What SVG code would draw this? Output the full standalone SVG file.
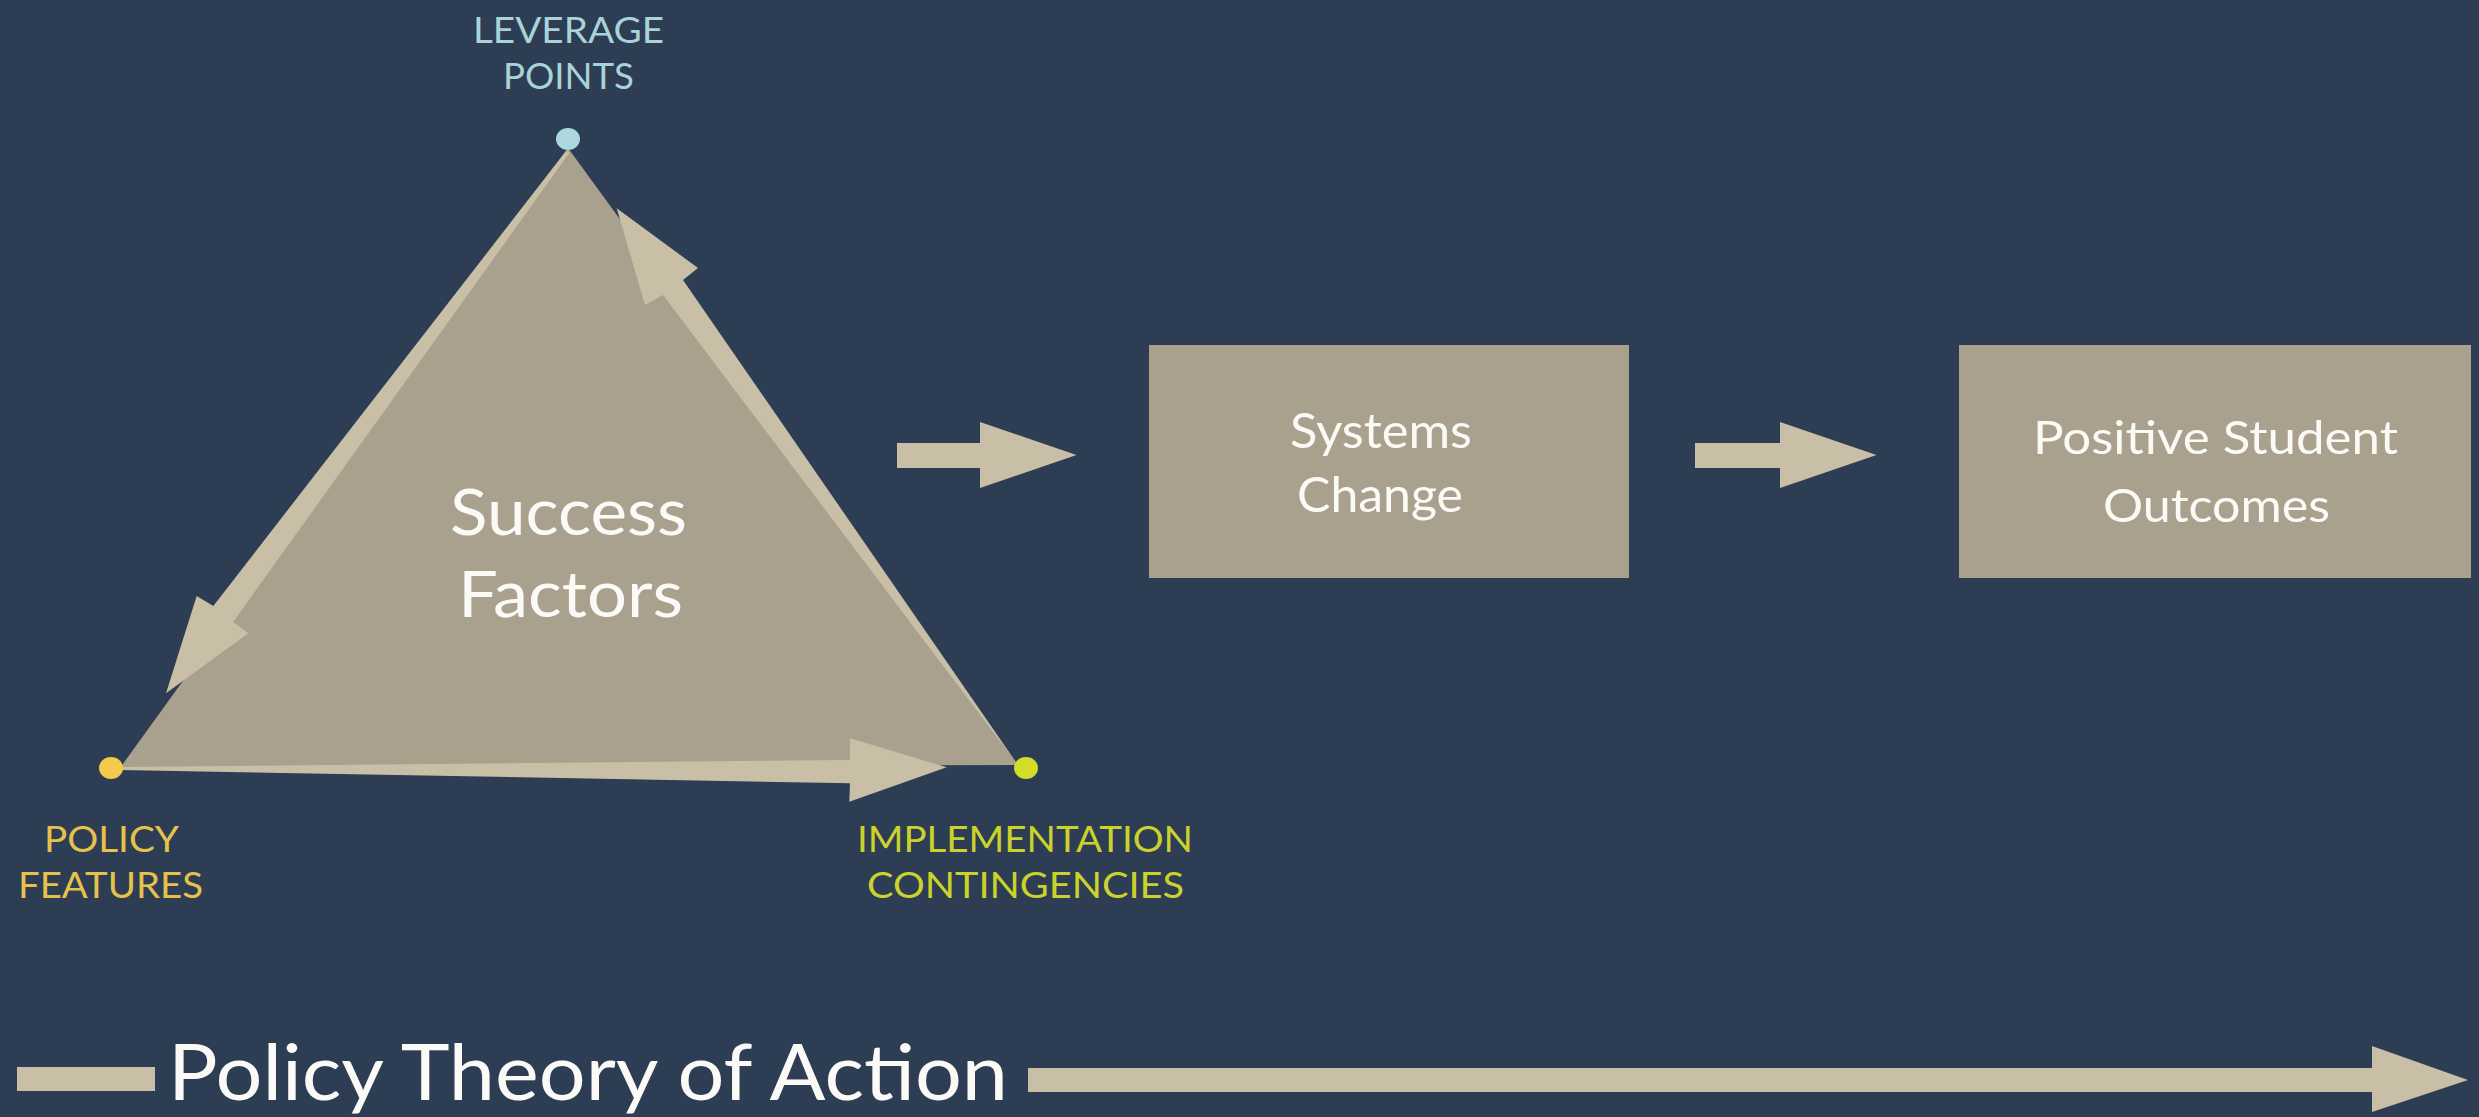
<svg xmlns="http://www.w3.org/2000/svg" width="2479" height="1117" viewBox="0 0 2479 1117">
<style>
.bg{fill:#2c3d54}
.fillDark{fill:#a9a18d}
.arrow{fill:#c9bfa7}
.t{font-family:Lato,"Liberation Sans",sans-serif}
.white{fill:#fbfaf6}
.lev{fill:#a9d3d6}
.pol{fill:#e6c24b}
.imp{fill:#cbd22c}
</style>
<rect class="bg" x="0" y="0" width="2479" height="1117"/>

<g id="success-factors">
<polygon class="fillDark" points="568,148 1018,765 120,768"/>
<text class="t white" x="450" y="535" font-size="64" textLength="237" lengthAdjust="spacingAndGlyphs">Success</text>
<text class="t white" x="458" y="617" font-size="64" textLength="225" lengthAdjust="spacingAndGlyphs">Factors</text>
</g>

<g id="connectors">
<polygon id="arrow-leverage-to-policy" class="arrow" points="566,151 213.3,606 196.7,596 166,693.3 248.3,633.3 233.3,621.7 570,152"/>
<polygon id="arrow-implementation-to-leverage" class="arrow" points="616.7,208.3 698,268 683,280 1018,765 663,295 645,305"/>
<polygon id="arrow-policy-to-implementation" class="arrow" points="120,767 850,760 850,738.3 946.7,767.3 849.3,801.7 850,783.3 120,770"/>
<polygon id="arrow-to-systems" class="arrow" points="897,443 980,443 980,422 1076.5,455 980,488 980,468 897,468"/>
<polygon id="arrow-to-outcomes" class="arrow" points="1695,443 1780,443 1780,422 1876.5,455 1780,488 1780,468 1695,468"/>
<g id="policy-theory-arrow">
<rect class="arrow" x="17" y="1067" width="138" height="24"/>
<polygon class="arrow" points="1028,1068 2372,1068 2372,1046 2468,1080 2372,1112 2372,1092 1028,1092"/>
</g>
</g>

<g id="leverage-points">
<ellipse cx="568" cy="139" rx="12" ry="11" fill="#abd8dc"/>
<text class="t lev" x="473" y="42.5" font-size="36" textLength="191" lengthAdjust="spacingAndGlyphs">LEVERAGE</text>
<text class="t lev" x="503" y="88.5" font-size="36" textLength="131" lengthAdjust="spacingAndGlyphs">POINTS</text>
</g>

<g id="policy-features">
<ellipse cx="111" cy="768" rx="12" ry="11" fill="#f3ca4c"/>
<text class="t pol" x="44" y="852" font-size="37" textLength="135" lengthAdjust="spacingAndGlyphs">POLICY</text>
<text class="t pol" x="18" y="898" font-size="37" textLength="185" lengthAdjust="spacingAndGlyphs">FEATURES</text>
</g>

<g id="implementation-contingencies">
<ellipse cx="1026" cy="768" rx="12" ry="11" fill="#d4dc2a"/>
<text class="t imp" x="857" y="852" font-size="37" textLength="336" lengthAdjust="spacingAndGlyphs">IMPLEMENTATION</text>
<text class="t imp" x="867" y="898" font-size="37" textLength="317" lengthAdjust="spacingAndGlyphs">CONTINGENCIES</text>
</g>

<g id="systems-change">
<rect class="fillDark" x="1149" y="345" width="480" height="233"/>
<text class="t white" x="1290" y="447.5" font-size="48" textLength="182" lengthAdjust="spacingAndGlyphs">Systems</text>
<text class="t white" x="1297" y="512" font-size="48" textLength="166" lengthAdjust="spacingAndGlyphs">Change</text>
</g>

<g id="positive-student-outcomes">
<rect class="fillDark" x="1959" y="345" width="512" height="233"/>
<text class="t white" x="2033" y="453.5" font-size="47" textLength="365" lengthAdjust="spacingAndGlyphs">Positive Student</text>
<text class="t white" x="2103" y="522" font-size="47" textLength="227" lengthAdjust="spacingAndGlyphs">Outcomes</text>
</g>

<g id="policy-theory-of-action">
<text class="t white" x="168" y="1100" font-size="77" textLength="840" lengthAdjust="spacingAndGlyphs">Policy Theory of Action</text>
</g>
</svg>
